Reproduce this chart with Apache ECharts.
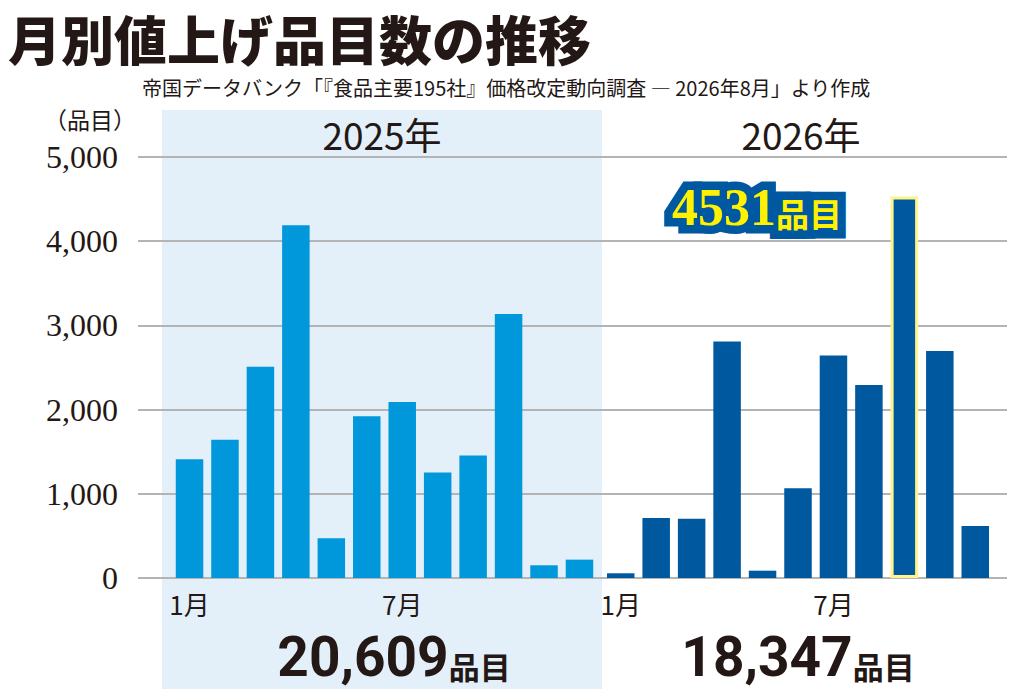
<!DOCTYPE html>
<html>
<head>
<meta charset="utf-8">
<script src="https://cdn.jsdelivr.net/npm/echarts@6/dist/echarts.min.js"></script>
<style>
html,body{margin:0;padding:0;background:#fff;}
#chart{width:1024px;height:700px;}
</style>
</head>
<body>
<div id="chart"></div>
<script>
// ---- data ----
const months2025 = ['1月','2月','3月','4月','5月','6月','7月','8月','9月','10月','11月','12月'];
const months2026 = ['1月','2月','3月','4月','5月','6月','7月','8月','9月','10月','11月'];
const values2025 = [1411, 1641, 2509, 4189, 472, 1922, 2089, 1252, 1454, 3135, 151, 218];
const values2026 = [56, 713, 705, 2810, 87, 1067, 2643, 2291, 4531, 2695, 618];
const yearLabels = ['2025年', '2026年'];
const totals = ['20,609', '18,347'];
const highlightIndex = 8;
const highlightLabel = '4531';
const unit = '品目';
const yTicks = [0, 1000, 2000, 3000, 4000, 5000];
const titleText = '月別値上げ品目数の推移';
const sourceText = '帝国データバンク「『食品主要195社』価格改定動向調査 ― 2026年8月」より作成';

const dark = '#231815';
const cjk = '"Noto Sans CJK JP", "Noto Sans", sans-serif';
const serif = '"Liberation Serif", "DejaVu Serif", serif';

const chart = echarts.init(document.getElementById('chart'), null, {renderer: 'svg'});

const data2026 = values2026.map((v, i) => i === highlightIndex
  ? {value: v, itemStyle: {borderColor: '#fff38c', borderWidth: 3}}
  : v);

function calloutText(fill, stroke, lw) {
  return {
    text: '{a|' + highlightLabel + '}{b|' + unit + '}', align: 'center', verticalAlign: 'middle',
    stroke: stroke, lineWidth: lw, lineJoin: 'round',
    rich: {
      a: {font: 'bold 52px ' + serif, fill: fill, stroke: stroke, lineWidth: lw, lineJoin: 'round', verticalAlign: 'bottom'},
      b: {font: 'bold 33px ' + cjk, fill: fill, stroke: stroke, lineWidth: lw, lineJoin: 'round', verticalAlign: 'bottom', padding: [0,0,4,0]}
    }
  };
}

const option = {
  backgroundColor: '#ffffff',
  animation: false,
  graphic: [
    {type: 'rect', z: -10, shape: {x: 162, y: 110, width: 440, height: 579}, style: {fill: '#e3f0f9'}},
    {type: 'text', left: 8, top: 11, style: {text: titleText, font: '900 53px ' + cjk, fill: dark}},
    {type: 'text', left: 142, top: 77, style: {text: sourceText, font: '20px ' + cjk, fill: dark}},
    {type: 'text', x: 90, y: 119, style: {text: '（品目）', font: '23px ' + cjk, fill: dark, align: 'center', verticalAlign: 'middle'}},
    {type: 'text', x: 382, y: 134, style: {text: yearLabels[0], font: '37px ' + cjk, fill: dark, align: 'center', verticalAlign: 'middle'}},
    {type: 'text', x: 801, y: 134, style: {text: yearLabels[1], font: '37px ' + cjk, fill: dark, align: 'center', verticalAlign: 'middle'}},
    {type: 'text', x: 394, y: 657, style: {
      text: '{a|' + totals[0] + '}{b|' + unit + '}', align: 'center', verticalAlign: 'middle',
      rich: {a: {font: 'bold 55px Roboto, ' + cjk, fill: dark, verticalAlign: 'bottom'}, b: {font: 'bold 31px ' + cjk, fill: dark, verticalAlign: 'bottom', padding: [0,0,4,0]}}
    }},
    {type: 'text', x: 798, y: 657, style: {
      text: '{a|' + totals[1] + '}{b|' + unit + '}', align: 'center', verticalAlign: 'middle',
      rich: {a: {font: 'bold 55px Roboto, ' + cjk, fill: dark, verticalAlign: 'bottom'}, b: {font: 'bold 31px ' + cjk, fill: dark, verticalAlign: 'bottom', padding: [0,0,4,0]}}
    }},
    {type: 'text', x: 757, y: 207, z: 20, style: calloutText('#0058a0', '#0058a0', 17)},
    {type: 'text', x: 757, y: 207, z: 21, style: calloutText('#fff200', null, 0)}
  ],
  grid: [
    {left: 138, right: 17, top: 157, bottom: 122},
    {left: 171.8, width: 425.4, top: 157, bottom: 122},
    {left: 603, width: 390, top: 157, bottom: 122}
  ],
  xAxis: [
    {gridIndex: 0, type: 'value', show: false, min: 0, max: 1},
    {gridIndex: 1, type: 'category', data: months2025, axisLine: {show: false}, axisTick: {show: false},
      axisLabel: {interval: (i) => i % 6 === 0, fontSize: 26, fontFamily: cjk, color: dark, margin: 12}},
    {gridIndex: 2, type: 'category', data: months2026, axisLine: {show: false}, axisTick: {show: false},
      axisLabel: {interval: (i) => i % 6 === 0, fontSize: 26, fontFamily: cjk, color: dark, margin: 12}}
  ],
  yAxis: [
    {gridIndex: 0, type: 'value', min: yTicks[0], max: yTicks[yTicks.length - 1], interval: yTicks[1] - yTicks[0],
      axisLine: {show: false}, axisTick: {show: false},
      splitLine: {lineStyle: {color: '#b4b4b4', width: 2}},
      axisLabel: {formatter: (v) => v.toLocaleString('en-US'), fontSize: 32, fontFamily: serif, color: dark, margin: 20}},
    {gridIndex: 1, type: 'value', min: 0, max: 5000, show: false, splitLine: {show: false}},
    {gridIndex: 2, type: 'value', min: 0, max: 5000, show: false, splitLine: {show: false}}
  ],
  series: [
    {type: 'bar', xAxisIndex: 1, yAxisIndex: 1, data: values2025, barWidth: 27.5, itemStyle: {color: '#0097db'}},
    {type: 'bar', xAxisIndex: 2, yAxisIndex: 2, data: data2026, barWidth: 27.5, itemStyle: {color: '#00589f'}}
  ]
};
chart.setOption(option);
</script>
</body>
</html>
